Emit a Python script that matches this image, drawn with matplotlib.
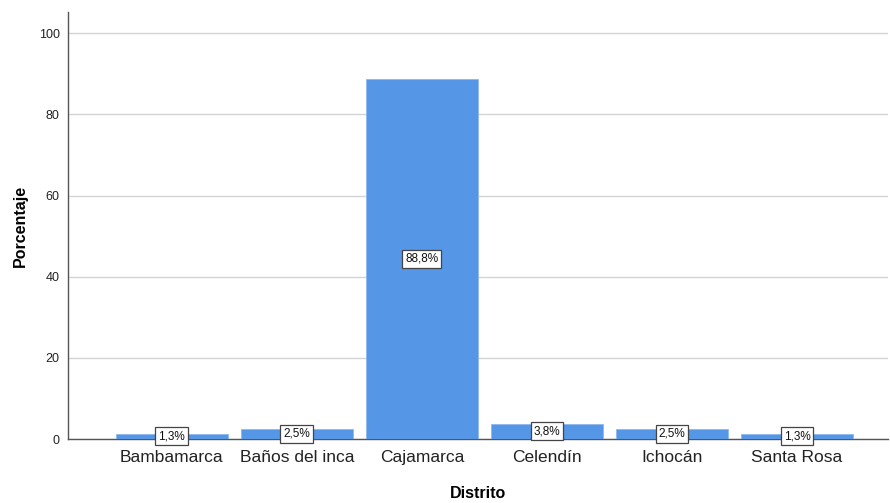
import matplotlib
matplotlib.use("Agg")
import matplotlib.pyplot as plt

categories = ["Bambamarca", "Baños del inca", "Cajamarca", "Celendín", "Ichocán", "Santa Rosa"]
values = [1.3, 2.5, 88.8, 3.8, 2.5, 1.3]
labels = ["1,3%", "2,5%", "88,8%", "3,8%", "2,5%", "1,3%"]
yticks = [0, 20, 40, 60, 80, 100]

plt.rcParams['font.family'] = ['Liberation Sans', 'DejaVu Sans']

fig = plt.figure(figsize=(8.9, 5.03), dpi=100)
ax = fig.add_axes([0.0764, 0.1272, 0.9216, 0.8488])

x = list(range(len(categories)))
ax.bar(x, values, width=0.9, color="#5596E6", edgecolor="#8DB8EE", linewidth=0.6, zorder=3)

for xi, v, lab in zip(x, values, labels):
    ax.text(xi, v / 2, lab, ha="center", va="center", fontsize=8.5, color="#111111", zorder=5,
            bbox=dict(boxstyle="square,pad=0.25", facecolor="white", edgecolor="#444444", linewidth=0.9))

ax.set_xlim(-0.83, 5.73)
ax.set_ylim(0, 105.2)
ax.set_yticks(yticks)
ax.set_yticklabels([str(t) for t in yticks], fontsize=9, color="#222222")
ax.set_xticks(x)
ax.set_xticklabels(categories, fontsize=12.5, color="#222222")
ax.tick_params(axis="x", length=0, pad=8)
ax.tick_params(axis="y", length=0, pad=6)

ax.yaxis.grid(True, color="#D4D4D4", linewidth=1.0, zorder=0)
ax.set_axisbelow(True)
for s in ["top", "right"]:
    ax.spines[s].set_visible(False)
for s in ["left", "bottom"]:
    ax.spines[s].set_color("#555555")
    ax.spines[s].set_linewidth(1.0)

ax.set_xlabel("Distrito", fontsize=11.5, fontweight="bold", labelpad=15)
ax.set_ylabel("Porcentaje", fontsize=11.5, fontweight="bold", labelpad=8)

fig.savefig("out.png", dpi=100)
